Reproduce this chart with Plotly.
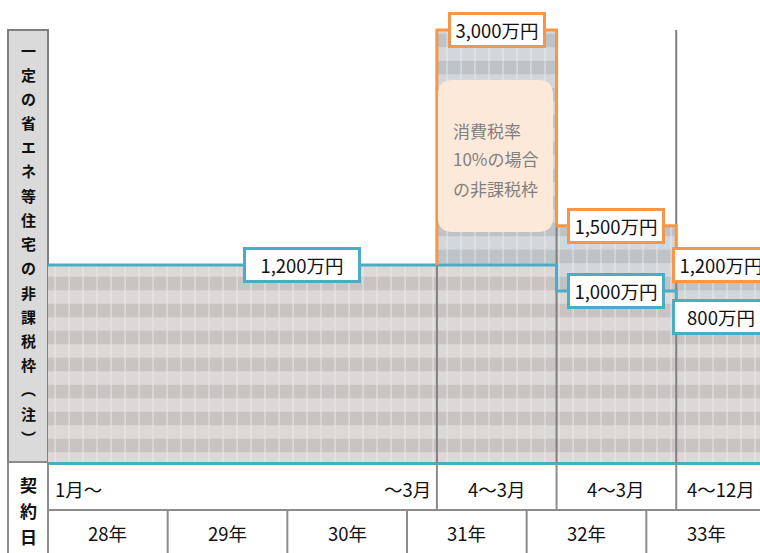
import plotly.graph_objects as go

# ---------------- data ----------------
# x unit: months counted from 28年1月
period_edges = [0, 39, 51, 63, 72]
period_labels = ["4〜3月", "4〜3月", "4〜12月"]      # periods 2..4
first_period_start = "1月〜"
first_period_end = "〜3月"

blue_edges = [0, 51, 63, 72]
blue_values = [1200, 1000, 800]
blue_labels = ["1,200万円", "1,000万円", "800万円"]

orange_edges = [39, 51, 63, 72]
orange_values = [3000, 1500, 1200]
orange_labels = ["3,000万円", "1,500万円", "1,200万円"]

years = ["28年", "29年", "30年", "31年", "32年", "33年"]
year_start = [0, 12, 24, 36, 48, 60]

axis_title_chars = ["一", "定", "の", "省", "エ", "ネ", "等", "住", "宅", "の",
                    "非", "課", "税", "枠", "︵", "注", "︶"]
row_title_chars = ["契", "約", "日"]
note_lines = ["消費税率", "10%の場合", "の非課税枠"]

# ---------------- styling / layout constants ----------------
W, H = 760, 553
ML, MR, MT, MB = 48, 0, 0, 91
PW, PH = W - ML - MR, H - MT - MB
XMAX = 71.4
YMIN, YMAX = -309, 3230

BLUE = "#4bacc6"
ORANGE = "#f79646"
GRAY = "#808080"
FONT = "Noto Sans CJK JP"


def px_x(p):   # pixel -> paper x
    return (p - ML) / PW


def px_y(p):   # pixel -> paper y
    return (H - MB - p) / PH


def m_x(m):    # month -> paper x
    return m / XMAX


def step_xy(edges, values):
    xs, ys = [], []
    for i, v in enumerate(values):
        xs += [edges[i], edges[i + 1]]
        ys += [v, v]
    return xs, ys


fig = go.Figure()

# ---- textured regions (orange envelope first, blue over it) ----
for edges, values, bg, fg in [
    (orange_edges, orange_values, "#d3d7db", "#aab0b6"),
    (blue_edges, blue_values, "#dcd8d7", "#b6afad"),
]:
    sx, sy = step_xy(edges, values)
    polyx = [edges[0]] + sx + [edges[-1], edges[0]]
    polyy = [YMIN] + sy + [YMIN, YMIN]
    fig.add_trace(go.Scatter(
        x=polyx, y=polyy, mode="lines", fill="toself",
        line=dict(width=0), fillcolor=bg,
        fillpattern=dict(shape="-", bgcolor=bg, fgcolor=fg, size=27, solidity=0.5),
        hoverinfo="skip", showlegend=False))
    fig.add_trace(go.Scatter(
        x=polyx, y=polyy, mode="lines", fill="toself",
        line=dict(width=0), fillcolor="rgba(0,0,0,0)",
        fillpattern=dict(shape="|", bgcolor="rgba(0,0,0,0)", fgcolor="#eeeeee",
                         size=14, solidity=0.12),
        hoverinfo="skip", showlegend=False))

# ---- period separators ----
sepx, sepy = [], []
for e in period_edges[1:-1]:
    sepx += [e, e, None]
    sepy += [YMIN, max(orange_values), None]
fig.add_trace(go.Scatter(x=sepx, y=sepy, mode="lines",
                         line=dict(color=GRAY, width=2),
                         hoverinfo="skip", showlegend=False))

# ---- step lines ----
bx, by = step_xy(blue_edges, blue_values)
fig.add_trace(go.Scatter(x=bx, y=by, mode="lines",
                         line=dict(color=BLUE, width=3),
                         hoverinfo="skip", showlegend=False))
ox, oy = step_xy(orange_edges, orange_values)
start_blue = blue_values[0]
fig.add_trace(go.Scatter(x=[orange_edges[0]] + ox, y=[start_blue] + oy, mode="lines",
                         line=dict(color=ORANGE, width=3),
                         hoverinfo="skip", showlegend=False))

annotations = []
shapes = []

# ---- value labels ----
for edges, values, labels, col in [
    (blue_edges, blue_values, blue_labels, BLUE),
    (orange_edges, orange_values, orange_labels, ORANGE),
]:
    for i, (v, t) in enumerate(zip(values, labels)):
        wide = (edges[i + 1] - edges[i]) > 20
        annotations.append(dict(
            x=(edges[i] + edges[i + 1]) / 2, y=v, xref="x", yref="y",
            xanchor="center", yanchor="middle",
            text=t, showarrow=False,
            font=dict(family=FONT, size=18.5, color="#111111"),
            bgcolor="white", bordercolor=col, borderwidth=3, borderpad=3,
            width=106 if wide else 86, height=24))

# ---- note box (rounded, peach) ----
x0, x1 = orange_edges[0] + 0.1, orange_edges[1] - 0.35
yt = YMAX - 80 * (YMAX - YMIN) / PH
yb = YMAX - 232 * (YMAX - YMIN) / PH
rx, ry = 1.5, 115
path = (f"M {x0+rx},{yt} L {x1-rx},{yt} Q {x1},{yt} {x1},{yt-ry} "
        f"L {x1},{yb+ry} Q {x1},{yb} {x1-rx},{yb} L {x0+rx},{yb} "
        f"Q {x0},{yb} {x0},{yb+ry} L {x0},{yt-ry} Q {x0},{yt} {x0+rx},{yt} Z")
shapes.append(dict(type="path", path=path, xref="x", yref="y",
                   fillcolor="#fde9da", line=dict(width=0), layer="above"))
for i, t in enumerate(note_lines):
    annotations.append(dict(
        x=px_x(451), y=px_y(130 + 29 * i), xref="paper", yref="paper",
        xanchor="left", yanchor="middle", text=t, showarrow=False,
        font=dict(family=FONT, size=17, color="#808080")))

# ---- left title panel ----
shapes.append(dict(type="rect", xref="paper", yref="paper",
                   x0=px_x(8), x1=px_x(48), y0=px_y(462), y1=px_y(30),
                   fillcolor="#dadada", line=dict(color=GRAY, width=2), layer="below"))
for i, ch in enumerate(axis_title_chars):
    annotations.append(dict(
        x=px_x(28), y=px_y(50 + 24.2 * i), xref="paper", yref="paper",
        xanchor="center", yanchor="middle",
        text=f"<b>{ch}</b>", showarrow=False,
        font=dict(family=FONT, size=15, color="#111111")))

# ---- bottom table ----
line_gray = dict(color="#8c8c8c", width=2)
shapes.append(dict(type="line", xref="paper", yref="paper",
                   x0=px_x(8), x1=px_x(8), y0=px_y(462), y1=px_y(H), line=line_gray))
shapes.append(dict(type="line", xref="paper", yref="paper",
                   x0=0, x1=0, y0=px_y(462), y1=px_y(H), line=line_gray))
shapes.append(dict(type="line", xref="paper", yref="paper",
                   x0=px_x(8), x1=0, y0=px_y(462), y1=px_y(462), line=line_gray))
shapes.append(dict(type="line", xref="paper", yref="paper",
                   x0=0, x1=1, y0=px_y(510), y1=px_y(510), line=line_gray))
for e in period_edges[1:-1]:
    shapes.append(dict(type="line", xref="paper", yref="paper",
                       x0=m_x(e), x1=m_x(e), y0=px_y(462), y1=px_y(510), line=line_gray))
for s in year_start[1:]:
    shapes.append(dict(type="line", xref="paper", yref="paper",
                       x0=m_x(s), x1=m_x(s), y0=px_y(510), y1=px_y(H), line=line_gray))

tfont = dict(family=FONT, size=18.5, color="#111111")
annotations.append(dict(x=m_x(period_edges[0]), y=px_y(489), xref="paper", yref="paper",
                        xanchor="left", yanchor="middle", xshift=5, text=first_period_start,
                        showarrow=False, font=tfont))
annotations.append(dict(x=m_x(period_edges[1]), y=px_y(489), xref="paper", yref="paper",
                        xanchor="right", yanchor="middle", xshift=-4, text=first_period_end,
                        showarrow=False, font=tfont))
for i, t in enumerate(period_labels):
    c = (period_edges[i + 1] + period_edges[i + 2]) / 2
    annotations.append(dict(x=m_x(c), y=px_y(489), xref="paper", yref="paper",
                            xanchor="center", yanchor="middle",
                            text=t, showarrow=False, font=tfont))
for s, t in zip(year_start, years):
    annotations.append(dict(x=m_x(s + 6), y=px_y(533), xref="paper", yref="paper",
                            xanchor="center", yanchor="middle",
                            text=t, showarrow=False, font=tfont))
for i, ch in enumerate(row_title_chars):
    annotations.append(dict(x=px_x(28), y=px_y(484 + 26 * i), xref="paper", yref="paper",
                            xanchor="center", yanchor="middle",
                            text=f"<b>{ch}</b>", showarrow=False,
                            font=dict(family=FONT, size=17, color="#111111")))

fig.update_layout(
    width=W, height=H,
    margin=dict(l=ML, r=MR, t=MT, b=MB, autoexpand=False),
    paper_bgcolor="white", plot_bgcolor="white",
    showlegend=False,
    xaxis=dict(range=[0, XMAX], showgrid=False, zeroline=False,
               showticklabels=False, ticks="", showline=True,
               linecolor=BLUE, linewidth=3, fixedrange=True),
    yaxis=dict(range=[YMIN, YMAX], showgrid=False, zeroline=False,
               showticklabels=False, ticks="", showline=False, fixedrange=True),
    annotations=annotations,
    shapes=shapes,
)

fig.write_html("out.html", config={"displayModeBar": False},
               post_script="document.body.style.margin='0';document.body.style.padding='0';")
